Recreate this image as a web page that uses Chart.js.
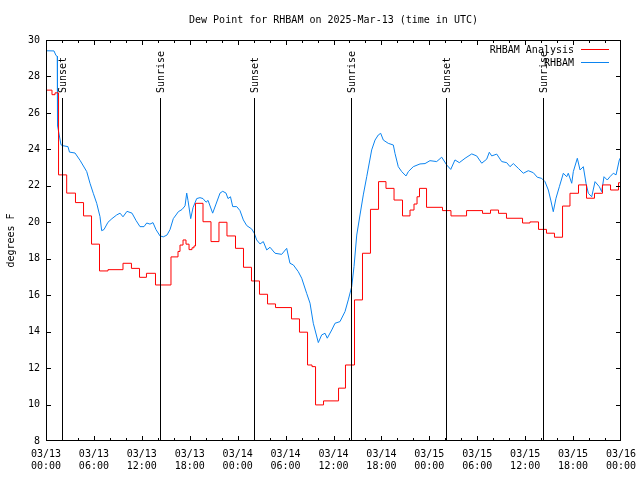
<!DOCTYPE html>
<html>
<head>
<meta charset="utf-8">
<script src="https://cdn.jsdelivr.net/npm/chart.js@4/dist/chart.umd.min.js"></script>
<style>
  html, body { margin:0; padding:0; background:#fff; }
  #wrap { width:640px; height:480px; }
</style>
</head>
<body>
<div id="wrap"><canvas id="c" width="640" height="480"></canvas></div>
<script>
const FONT = "'DejaVu Sans Mono', 'Liberation Mono', monospace";
const TITLE = "Dew Point for RHBAM on 2025-Mar-13 (time in UTC)";

// hours since 03/13 00:00 UTC; analysis is held flat until the next entry
const analysisHours = [0, 0.75, 1.13, 1.57, 2.59, 3.69, 4.7, 5.7, 6.7, 7.76, 9.64, 10.7, 11.71, 12.58, 13.71, 15.65, 16.53, 16.78, 17.16, 17.53, 17.91, 18.28, 18.53, 18.72, 19.66, 20.66, 21.66, 22.66, 23.73, 24.73, 25.73, 26.73, 27.74, 28.74, 30.74, 31.74, 32.75, 33.31, 33.75, 34.75, 36.63, 37.5, 38.63, 39.63, 40.63, 41.64, 42.57, 43.58, 44.64, 45.58, 46.08, 46.46, 46.77, 47.65, 49.65, 50.71, 52.66, 54.66, 55.66, 56.66, 57.66, 59.67, 60.6, 61.67, 62.67, 63.67, 64.68, 65.61, 66.68, 67.68, 68.68, 69.68, 70.69, 71.69, 72];
const analysisDew   = [27.25, 27.0, 27.1, 22.6, 21.6, 21.08, 20.35, 18.8, 17.33, 17.4, 17.75, 17.47, 16.98, 17.2, 16.56, 18.1, 18.4, 18.75, 19.03, 18.8, 18.5, 18.6, 18.7, 21.04, 20.03, 18.94, 20.0, 19.25, 18.57, 17.53, 16.78, 16.05, 15.52, 15.32, 14.7, 13.97, 12.17, 12.08, 9.98, 10.2, 10.9, 12.17, 15.74, 18.3, 20.71, 22.23, 21.86, 21.22, 20.35, 20.67, 21.0, 21.4, 21.86, 20.82, 20.64, 20.35, 20.64, 20.49, 20.67, 20.49, 20.22, 19.96, 20.02, 19.61, 19.4, 19.18, 20.89, 21.59, 22.05, 21.32, 21.59, 22.05, 21.77, 22.17, 22.17];

const obsHours = [0, 1.0, 1.25, 1.41, 1.44, 1.88, 2.13, 2.75, 2.94, 3.63, 4.26, 5.1, 5.51, 5.92, 6.35, 6.76, 6.97, 7.26, 7.76, 8.26, 8.85, 9.27, 9.64, 10.14, 10.77, 11.27, 11.77, 12.27, 12.61, 13.02, 13.4, 13.77, 14.28, 14.69, 15.15, 15.53, 15.94, 16.28, 16.57, 17.03, 17.41, 17.62, 17.78, 18.12, 18.41, 18.87, 19.28, 19.66, 20.04, 20.29, 20.87, 21.29, 21.79, 22.13, 22.54, 22.79, 23.1, 23.38, 23.88, 24.29, 24.71, 25.13, 25.76, 26.08, 26.38, 26.8, 27.21, 27.64, 28.05, 28.68, 29.51, 30.14, 30.55, 30.97, 31.59, 32.02, 32.64, 33.06, 33.47, 34.1, 34.52, 34.94, 35.22, 35.78, 36.19, 36.81, 37.44, 37.85, 38.28, 38.57, 38.91, 39.32, 39.73, 40.16, 40.78, 41.2, 41.61, 41.91, 42.24, 42.86, 43.49, 43.7, 44.11, 44.54, 45.08, 45.37, 45.99, 46.83, 47.46, 48.08, 48.92, 49.55, 50.18, 50.68, 51.21, 51.75, 52.47, 53.31, 53.93, 54.56, 55.18, 55.51, 55.81, 56.44, 57.06, 57.69, 58.1, 58.52, 59.14, 59.77, 60.39, 61.02, 61.52, 62.07, 62.48, 62.9, 63.2, 63.52, 63.86, 64.28, 64.78, 65.2, 65.4, 65.83, 66.03, 66.53, 66.87, 67.28, 67.62, 67.91, 68.33, 68.75, 69.29, 69.58, 69.87, 70.28, 70.62, 71.04, 71.38, 71.79, 72];
const obsDew   = [29.41, 29.40, 29.15, 29.1, 25.3, 24.25, 24.2, 24.15, 23.85, 23.8, 23.4, 22.78, 22.14, 21.59, 21.04, 20.31, 19.54, 19.6, 20.0, 20.2, 20.4, 20.5, 20.3, 20.6, 20.5, 20.1, 19.76, 19.76, 19.96, 19.9, 19.98, 19.6, 19.25, 19.2, 19.3, 19.6, 20.2, 20.4, 20.58, 20.7, 20.9, 21.6, 21.2, 20.2, 20.8, 21.3, 21.35, 21.3, 21.1, 21.2, 20.5, 21.0, 21.6, 21.7, 21.6, 21.3, 21.4, 20.86, 20.86, 20.64, 20.13, 19.82, 19.63, 19.4, 19.03, 18.81, 18.94, 18.48, 18.63, 18.3, 18.24, 18.57, 17.75, 17.66, 17.29, 16.93, 16.1, 15.56, 14.46, 13.4, 13.82, 13.91, 13.64, 14.09, 14.46, 14.55, 15.1, 15.74, 16.47, 17.57, 19.3, 20.4, 21.5, 22.5, 23.97, 24.51, 24.79, 24.88, 24.51, 24.33, 24.24, 23.78, 23.05, 22.78, 22.54, 22.78, 23.05, 23.2, 23.22, 23.38, 23.33, 23.57, 23.14, 22.9, 23.42, 23.27, 23.51, 23.75, 23.64, 23.24, 23.46, 23.84, 23.64, 23.74, 23.33, 23.27, 23.05, 23.22, 22.96, 22.69, 22.83, 22.72, 22.47, 22.41, 22.23, 21.77, 21.22, 20.58, 21.32, 21.95, 22.69, 22.5, 22.69, 22.14, 22.78, 23.51, 22.87, 23.05, 22.14, 21.59, 21.4, 22.23, 21.95, 21.68, 22.5, 22.32, 22.5, 22.69, 22.6, 23.42, 23.6];

const sunHours  = [2.0, 14.27, 26.05, 38.19, 50.09, 62.23];
const sunLabels = ["Sunset", "Sunrise", "Sunset", "Sunrise", "Sunset", "Sunrise"];

const xTickLabels = [
  ["03/13","00:00"], ["03/13","06:00"], ["03/13","12:00"], ["03/13","18:00"],
  ["03/14","00:00"], ["03/14","06:00"], ["03/14","12:00"], ["03/14","18:00"],
  ["03/15","00:00"], ["03/15","06:00"], ["03/15","12:00"], ["03/15","18:00"],
  ["03/16","00:00"]
];

const seriesNames  = ["RHBAM Analysis", "RHBAM"];
const seriesColors = ["#ff0000", "#0b84f0"];

const toPts = (xs, ys) => xs.map((h, i) => ({ x: h, y: ys[i] }));

// gnuplot-ish frame, inward tics, sun markers, title and legend
const decor = {
  id: "decor",
  afterDatasetsDraw(chart) {
    const { ctx, chartArea: a, scales: { x, y } } = chart;
    ctx.save();
    ctx.strokeStyle = "#000";
    ctx.fillStyle = "#000";
    ctx.lineWidth = 1;
    ctx.font = "10px " + FONT;

    sunHours.forEach((h, i) => {
      const px = Math.round(x.getPixelForValue(h)) + 0.5;
      ctx.beginPath(); ctx.moveTo(px, a.top + 58); ctx.lineTo(px, a.bottom); ctx.stroke();
      ctx.save();
      ctx.translate(px + 1, a.top + 53);
      ctx.rotate(-Math.PI / 2);
      ctx.textAlign = "left"; ctx.textBaseline = "middle";
      ctx.fillText(sunLabels[i], 0, 0);
      ctx.restore();
    });

    ctx.strokeRect(a.left + 0.5, a.top + 0.5, a.right - a.left - 1, a.bottom - a.top - 1);

    ctx.beginPath();
    for (let h = 2; h < 72; h += 2) {
      const len = h % 6 === 0 ? 5 : 3;
      const px = Math.round(x.getPixelForValue(h)) + 0.5;
      ctx.moveTo(px, a.bottom); ctx.lineTo(px, a.bottom - len);
      ctx.moveTo(px, a.top);    ctx.lineTo(px, a.top + len);
    }
    for (let v = 10; v < 30; v += 2) {
      const py = Math.round(y.getPixelForValue(v)) + 0.5;
      ctx.moveTo(a.left, py);  ctx.lineTo(a.left + 5, py);
      ctx.moveTo(a.right, py); ctx.lineTo(a.right - 5, py);
    }
    ctx.stroke();

    ctx.textAlign = "center"; ctx.textBaseline = "middle";
    ctx.fillText(TITLE, (a.left + a.right) / 2, 20);

    ctx.save();
    ctx.translate(11, (a.top + a.bottom) / 2);
    ctx.rotate(-Math.PI / 2);
    ctx.fillText("degrees F", 0, 0);
    ctx.restore();

    ctx.textAlign = "right";
    seriesNames.forEach((name, i) => {
      const ly = a.top + 10 + i * 13;
      ctx.fillStyle = "#000";
      ctx.fillText(name, a.right - 47, ly);
      ctx.strokeStyle = seriesColors[i];
      ctx.beginPath(); ctx.moveTo(a.right - 40, ly - 0.5); ctx.lineTo(a.right - 12, ly - 0.5); ctx.stroke();
    });
    ctx.restore();
  }
};

new Chart(document.getElementById("c"), {
  type: "line",
  data: {
    datasets: [
      { label: seriesNames[0], data: toPts(analysisHours, analysisDew), borderColor: seriesColors[0],
        borderWidth: 1, pointRadius: 0, stepped: "before", fill: false },
      { label: seriesNames[1], data: toPts(obsHours, obsDew), borderColor: seriesColors[1],
        borderWidth: 1, pointRadius: 0, tension: 0, fill: false },
    ],
  },
  options: {
    responsive: false, animation: false, devicePixelRatio: 1,
    layout: { padding: { top: 40, right: 19, left: 0, bottom: 0 } },
    plugins: { legend: { display: false }, tooltip: { enabled: false } },
    scales: {
      x: {
        type: "linear", min: 0, max: 72,
        grid: { display: false, drawTicks: false }, border: { display: false },
        ticks: { stepSize: 6, autoSkip: false, maxRotation: 0, minRotation: 0, padding: 7,
                 color: "#000", font: { family: FONT, size: 10 },
                 callback: v => xTickLabels[Math.round(v / 6)] },
        // the layout padding already leaves room for the end labels
        afterFit: s => { s.height = 39; s.paddingLeft = 0; s.paddingRight = 0; },
      },
      y: {
        min: 8, max: 30,
        grid: { display: false, drawTicks: false }, border: { display: false },
        ticks: { stepSize: 2, padding: 6, color: "#000", font: { family: FONT, size: 10 } },
        afterFit: s => { s.width = 46; },
      },
    },
  },
  plugins: [decor],
});
</script>
</body>
</html>
